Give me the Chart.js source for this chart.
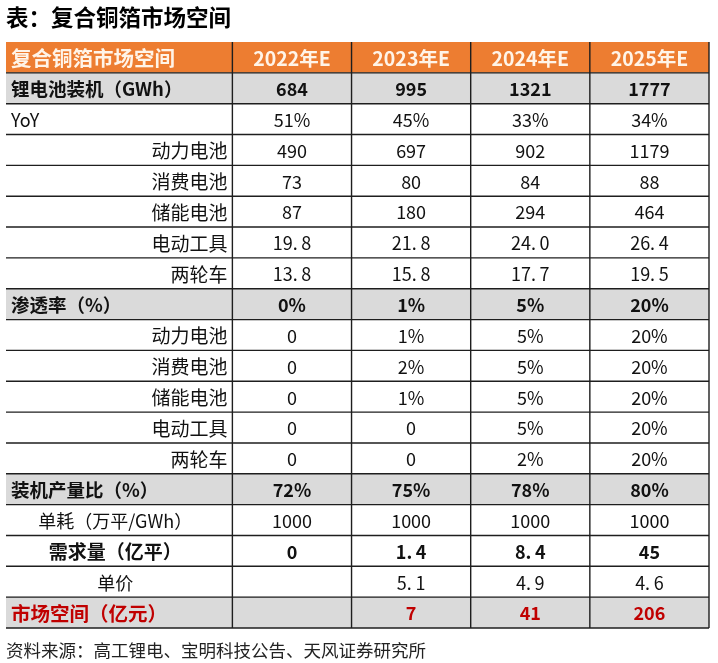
<!DOCTYPE html>
<html>
<head>
<meta charset="utf-8">
<script src="https://cdn.jsdelivr.net/npm/chart.js@4.4.1/dist/chart.umd.min.js"></script>
<style>
    html, body { margin: 0; padding: 0; background: #fff; }
    #wrap { width: 718px; height: 663px; }
</style>
</head>
<body>
<div id="wrap"><canvas id="tableChart"></canvas></div>
<script>
const headerLabel = "复合铜箔市场空间"
const years = ["2022年E", "2023年E", "2024年E", "2025年E"]

const installedGWh = [684, 995, 1321, 1777]
const installedYoY = [51, 45, 33, 34]
const powerGWh = [490, 697, 902, 1179]
const consumerGWh = [73, 80, 84, 88]
const storageGWh = [87, 180, 294, 464]
const toolGWh = [19.8, 21.8, 24.0, 26.4]
const twoWheelGWh = [13.8, 15.8, 17.7, 19.5]

const penetrationTotal = [0, 1, 5, 20]
const penetrationPower = [0, 1, 5, 20]
const penetrationConsumer = [0, 2, 5, 20]
const penetrationStorage = [0, 1, 5, 20]
const penetrationTool = [0, 0, 5, 20]
const penetrationTwoWheel = [0, 0, 2, 20]

const installToOutput = [72, 75, 78, 80]
const unitUsage = [1000, 1000, 1000, 1000]
const demand = [0, 1.4, 8.4, 45]
const unitPrice = [null, 5.1, 4.9, 4.6]
const marketSize = [null, 7, 41, 206]

const FONT = '"Noto Sans CJK SC", "Noto Sans", sans-serif'
const ORANGE = "#ED7D31"
const GREY = "#DADADA"
const RED = "#C00000"

// label column is wider than the year columns
const colEdges = [0, 1.9, 2.9, 3.9, 4.9, 5.9]

const pct = v => v + "%"
const pctOrZero = v => v === 0 ? "0" : v + "%"
const plain = v => String(v)
const oneDec = v => v.toFixed(1).replace(".", ".\u2009")
const dec = v => Number.isInteger(v) ? String(v) : oneDec(v)

const styles = {
    head: { fill: ORANGE, bold: true, color: "#FFF4E8", align: "left", size: 20.5 },
    key: { fill: GREY, bold: true, color: "#111", align: "left", size: 18.5 },
    left: { align: "left", size: 18 },
    sub: { align: "right", size: 19 },
    center: { align: "center", size: 18 },
    centerBold: { align: "center", bold: true, size: 19 },
    red: { fill: GREY, bold: true, color: RED, align: "left", size: 19.5 }
}

const rows = [
    { label: headerLabel, values: years, fmt: plain, kind: "head" },
    { label: "锂电池装机（GWh）", values: installedGWh, fmt: plain, kind: "key" },
    { label: "YoY", values: installedYoY, fmt: pct, kind: "left" },
    { label: "动力电池", values: powerGWh, fmt: plain, kind: "sub" },
    { label: "消费电池", values: consumerGWh, fmt: plain, kind: "sub" },
    { label: "储能电池", values: storageGWh, fmt: plain, kind: "sub" },
    { label: "电动工具", values: toolGWh, fmt: oneDec, kind: "sub" },
    { label: "两轮车", values: twoWheelGWh, fmt: oneDec, kind: "sub" },
    { label: "渗透率（%）", values: penetrationTotal, fmt: pct, kind: "key" },
    { label: "动力电池", values: penetrationPower, fmt: pctOrZero, kind: "sub" },
    { label: "消费电池", values: penetrationConsumer, fmt: pctOrZero, kind: "sub" },
    { label: "储能电池", values: penetrationStorage, fmt: pctOrZero, kind: "sub" },
    { label: "电动工具", values: penetrationTool, fmt: pctOrZero, kind: "sub" },
    { label: "两轮车", values: penetrationTwoWheel, fmt: pctOrZero, kind: "sub" },
    { label: "装机产量比（%）", values: installToOutput, fmt: pct, kind: "key" },
    { label: "单耗（万平/GWh）", values: unitUsage, fmt: plain, kind: "center" },
    { label: "需求量（亿平）", values: demand, fmt: dec, kind: "centerBold" },
    { label: "单价", values: unitPrice, fmt: dec, kind: "center" },
    { label: "市场空间（亿元）", values: marketSize, fmt: plain, kind: "red" }
]

const tablePlugin = {
    id: "tableCells",
    afterDatasetsDraw(chart) {
        const { ctx, chartArea: a, scales: { x, y } } = chart
        const rowH = Math.abs(y.getPixelForValue(1) - y.getPixelForValue(0))

        ctx.save()
        ctx.strokeStyle = "#1e1e1e"
        ctx.lineWidth = 1.4
        rows.forEach((_, i) => {
            const yb = y.getPixelForValue(i) + rowH / 2
            ctx.beginPath()
            ctx.moveTo(a.left, yb)
            ctx.lineTo(a.right, yb)
            ctx.stroke()
        })
        colEdges.slice(1).forEach(e => {
            const px = x.getPixelForValue(e)
            ctx.beginPath()
            ctx.moveTo(px, a.top)
            ctx.lineTo(px, a.bottom)
            ctx.stroke()
        })

        ctx.textBaseline = "middle"
        rows.forEach((row, i) => {
            const st = styles[row.kind]
            const cy = y.getPixelForValue(i) + 1
            ctx.fillStyle = st.color || "#111"
            ctx.font = `${st.bold ? "bold " : ""}${st.size}px ${FONT}`

            const l = x.getPixelForValue(colEdges[0])
            const r = x.getPixelForValue(colEdges[1])
            ctx.textAlign = st.align
            const lx = st.align === "left" ? l + 5 : st.align === "right" ? r - 5 : (l + r) / 2 - 4
            ctx.fillText(row.label, lx, cy)

            ctx.textAlign = "center"
            ctx.font = `${st.bold ? "bold " : ""}${row.kind === "head" ? 19.5 : 18}px ${FONT}`
            row.values.forEach((v, j) => {
                if (v === null) return
                const cx = (x.getPixelForValue(colEdges[j + 1]) + x.getPixelForValue(colEdges[j + 2])) / 2
                ctx.fillText(row.fmt(v), cx, cy)
            })
        })
        ctx.restore()
    }
}

const ctx = document.getElementById("tableChart").getContext("2d")

new Chart(ctx, {
    type: "bar",
    data: {
        labels: rows.map(r => r.label),
        datasets: [{
            data: rows.map(r => styles[r.kind].fill ? [colEdges[0], colEdges[colEdges.length - 1]] : null),
            backgroundColor: rows.map(r => styles[r.kind].fill || "transparent"),
            borderWidth: 0,
            barPercentage: 1,
            categoryPercentage: 1
        }]
    },
    options: {
        indexAxis: "y",
        responsive: true,
        maintainAspectRatio: false,
        animation: false,
        layout: { padding: { left: 6, right: 9, top: 4, bottom: 0 } },
        scales: {
            x: { type: "linear", min: colEdges[0], max: colEdges[colEdges.length - 1], display: false },
            y: { type: "category", display: false }
        },
        plugins: {
            legend: { display: false },
            tooltip: { enabled: false },
            title: {
                display: true,
                text: "表：复合铜箔市场空间",
                align: "start",
                color: "#000",
                font: { family: FONT, size: 22.5, weight: "bold" },
                padding: { top: 0, bottom: 11 }
            },
            subtitle: {
                display: true,
                position: "bottom",
                text: "资料来源：高工锂电、宝明科技公告、天风证券研究所",
                align: "start",
                color: "#222",
                font: { family: FONT, size: 17.5, weight: "normal" },
                padding: { top: 12, bottom: 2 }
            }
        }
    },
    plugins: [tablePlugin]
})
</script>
</body>
</html>
